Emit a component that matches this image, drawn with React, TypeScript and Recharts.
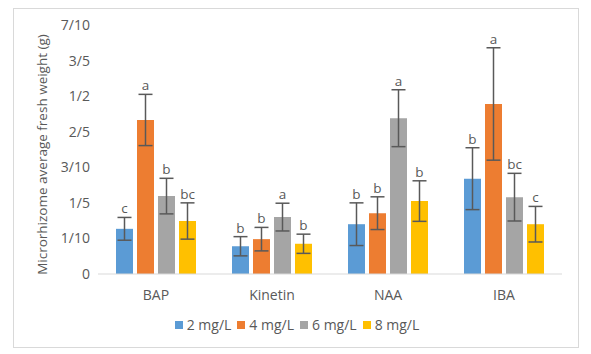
import { BarChart, Bar, XAxis, YAxis, ErrorBar, Legend } from "recharts";

const categories = ["BAP", "Kinetin", "NAA", "IBA"];
const mean2 = [0.127, 0.078, 0.14, 0.268];
const err2 = [0.032, 0.027, 0.06, 0.087];
const mean4 = [0.433, 0.098, 0.171, 0.478];
const err4 = [0.072, 0.033, 0.046, 0.158];
const mean6 = [0.219, 0.16, 0.438, 0.216];
const err6 = [0.05, 0.039, 0.08, 0.067];
const mean8 = [0.149, 0.085, 0.205, 0.14];
const err8 = [0.051, 0.027, 0.057, 0.05];
const letters2 = ["c", "b", "b", "b"];
const letters4 = ["a", "b", "b", "a"];
const letters6 = ["b", "a", "a", "bc"];
const letters8 = ["bc", "b", "b", "c"];
const yTicks = [0, 0.1, 0.2, 0.3, 0.4, 0.5, 0.6, 0.7];
const yTickLabels = ["0", "1/10", "1/5", "3/10", "2/5", "1/2", "3/5", "7/10"];

const series = [
  { key: "m2", err: "e2", name: "2 mg/L", color: "#5B9BD5", letters: letters2, errs: err2 },
  { key: "m4", err: "e4", name: "4 mg/L", color: "#ED7D31", letters: letters4, errs: err4 },
  { key: "m6", err: "e6", name: "6 mg/L", color: "#A5A5A5", letters: letters6, errs: err6 },
  { key: "m8", err: "e8", name: "8 mg/L", color: "#FFC000", letters: letters8, errs: err8 },
];

const data = categories.map((c, i) => ({
  name: c,
  m2: mean2[i], e2: err2[i],
  m4: mean4[i], e4: err4[i],
  m6: mean6[i], e6: err6[i],
  m8: mean8[i], e8: err8[i],
}));

const font = "'Open Sans', sans-serif";
const textColor = "#595959";

// letter sits just above the top cap of the error bar
const letterLabel = (letters: string[], errs: number[]) => (props: any) => {
  const { x, y, width, height, value, index } = props;
  if (!value) return null;
  const pxPerUnit = height / value;
  const top = y - errs[index] * pxPerUnit;
  return (
    <text x={x + width / 2} y={top - 4} textAnchor="middle" fontSize={13.5} fill={textColor} fontFamily={font}>
      {letters[index]}
    </text>
  );
};

const LegendContent = () => (
  <div style={{ display: "flex", justifyContent: "center", fontFamily: font, fontSize: 14, color: textColor, marginLeft: 24, marginTop: 3 }}>
    {series.map((s) => (
      <div key={s.key} style={{ display: "flex", alignItems: "center", marginRight: 6 }}>
        <span style={{ width: 8, height: 8, background: s.color, display: "inline-block", marginRight: 4 }} />
        <span>{s.name}</span>
      </div>
    ))}
  </div>
);

const YLabel = (props: any) => {
  const vb = props.viewBox;
  const cx = vb.x + 29;
  const cy = vb.y + vb.height / 2 + 5;
  return (
    <text x={cx} y={cy} transform={`rotate(-90 ${cx} ${cy})`} textAnchor="middle" dominantBaseline="middle"
      fontSize={13.5} fill={textColor} fontFamily={font}>
      Microrhizome average fresh weight (g)
    </text>
  );
};

export default function App() {
  return (
    <div style={{ marginLeft: 5, width: 564, height: 338, border: "1px solid #d9d9d9", background: "#fff" }}>
      <BarChart width={564} height={338} data={data} margin={{ top: 16, right: 16, left: 0, bottom: 11 }}
        barCategoryGap={18} barGap={4}>
        <XAxis dataKey="name" axisLine={{ stroke: "#d9d9d9" }} tickLine={false} tickMargin={10} height={38}
          tick={{ fontSize: 14, fill: textColor, fontFamily: font }} />
        <YAxis width={84} domain={[0, 0.7]} ticks={yTicks} axisLine={false} tickLine={false}
          tickFormatter={(v: number) => yTickLabels[yTicks.findIndex((t) => Math.abs(t - v) < 1e-9)]}
          tick={{ fontSize: 14, fill: textColor, fontFamily: font }} label={YLabel} />
        {series.map((s) => (
          <Bar key={s.key} dataKey={s.key} name={s.name} fill={s.color} isAnimationActive={false}
            label={letterLabel(s.letters, s.errs)}>
            <ErrorBar dataKey={s.err} width={7} stroke="#595959" strokeWidth={1.5} />
          </Bar>
        ))}
        <Legend verticalAlign="bottom" height={24} content={<LegendContent />} />
      </BarChart>
    </div>
  );
}
